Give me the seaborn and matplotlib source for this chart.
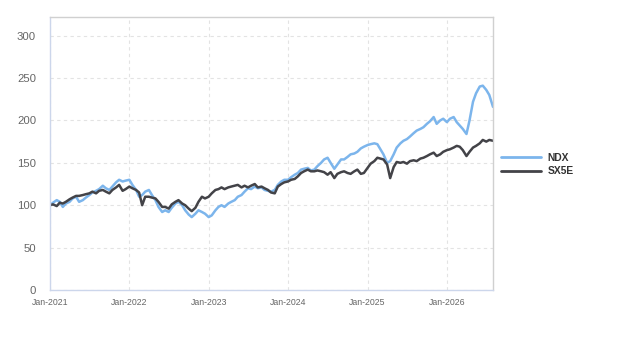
import matplotlib
matplotlib.use("Agg")
from matplotlib import pyplot as plt
import matplotlib.dates as mdates
import seaborn as sns
import numpy as np
import pandas as pd

# semi-monthly readings (1st and 15th of each month), Jan-2021 .. Aug-2026
dates = pd.date_range('2021-01-01', periods=135, freq='SMS')

ndx = [100, 103, 106, 104, 98, 102, 104, 108, 110, 104, 106, 109,
       112, 115, 117, 119, 123, 120, 118, 122, 127, 130, 128, 129,
       130, 124, 118, 110, 112, 116, 118, 112, 106, 98, 92, 94,
       92, 97, 102, 104, 100, 94, 89, 86, 90, 94, 92, 90,
       86, 88, 94, 98, 100, 98, 102, 104, 106, 110, 112, 116,
       120, 119, 122, 120, 121, 118, 117, 116, 118, 124, 128, 130,
       130, 133, 136, 138, 142, 143, 144, 141, 142, 146, 150, 154,
       156, 150, 143, 148, 154, 154, 157, 160, 161, 163, 167, 169,
       171, 172, 173, 172, 166, 160, 150, 152, 160, 168, 173, 176,
       178, 181, 185, 188, 190, 192, 196, 199, 204, 196, 200, 202,
       198, 202, 204, 198, 194, 190, 184, 200, 222, 232, 240, 241,
       236, 230, 216]

sx5e = [100, 101, 99, 103, 102, 104, 107, 109, 111, 111, 112, 113,
        114, 116, 114, 117, 118, 116, 114, 118, 121, 124, 117, 119,
        122, 120, 118, 115, 100, 110, 110, 109, 108, 104, 98, 98,
        96, 101, 104, 106, 102, 100, 96, 93, 97, 104, 110, 108,
        110, 114, 118, 119, 121, 119, 121, 122, 123, 124, 121, 123,
        121, 123, 125, 121, 122, 120, 118, 115, 114, 122, 125, 127,
        128, 130, 131, 134, 138, 140, 142, 140, 140, 141, 140, 139,
        136, 139, 132, 137, 139, 140, 138, 137, 140, 142, 137, 138,
        144, 149, 152, 156, 155, 154, 148, 132, 145, 151, 150, 151,
        149, 152, 153, 152, 155, 156, 158, 160, 162, 158, 160, 163,
        165, 166, 168, 170, 169, 165, 158, 163, 168, 170, 173, 177,
        175, 177, 176]

series_names = ['NDX', 'SX5E']
colors = ['#7cb5ec', '#434348']

df = pd.DataFrame({'date': list(dates) * 2,
                   'value': ndx + sx5e,
                   'index': ['NDX'] * len(ndx) + ['SX5E'] * len(sx5e)})

sns.set_style('white')
plt.rcParams['font.family'] = ['Liberation Sans', 'DejaVu Sans']

fig = plt.figure(figsize=(6.23, 3.5), dpi=100)
ax = fig.add_axes([50 / 623, 60 / 350, 443 / 623, 273 / 350])

sns.lineplot(data=df, x='date', y='value', hue='index', hue_order=series_names,
             palette=colors, linewidth=1.8, ax=ax, legend=True)

ax.set_xlim(pd.Timestamp('2021-01-01'), pd.Timestamp('2026-08-01'))
ax.set_ylim(0, 322)
ax.set_yticks(range(0, 301, 50))
ax.xaxis.set_major_locator(mdates.YearLocator())
ax.xaxis.set_major_formatter(mdates.DateFormatter('%b-%Y'))
ax.set_xlabel('')
ax.set_ylabel('')

# 网格虚线
ax.grid(True, color='#e3e3e3', linestyle=(0, (3, 3)), linewidth=0.8)
ax.set_axisbelow(True)
for sp in ax.spines.values():
    sp.set_color('#ccd6eb')
    sp.set_linewidth(1)
ax.spines['right'].set_color('#d0d0d0')
ax.spines['top'].set_color('#d0d0d0')

ax.tick_params(axis='y', length=0, pad=10, labelsize=8.2, labelcolor='#666666')
ax.tick_params(axis='x', length=3, width=0.8, color='#ccd6eb', pad=3,
               labelsize=6.3, labelcolor='#666666')

ax.get_legend().remove()
handles, labels = ax.get_legend_handles_labels()
leg = fig.legend(handles, labels, loc='center left',
                 bbox_to_anchor=(501 / 623, (350 - 164.7) / 350),
                 bbox_transform=fig.transFigure, frameon=False,
                 borderaxespad=0, borderpad=0, handlelength=3.9,
                 handletextpad=0.6, labelspacing=0.35,
                 prop={'size': 7.4, 'weight': 'bold'})
for t in leg.get_texts():
    t.set_color('#333333')
for line in leg.get_lines():
    line.set_linewidth(2)

fig.savefig('out.png', dpi=100)
